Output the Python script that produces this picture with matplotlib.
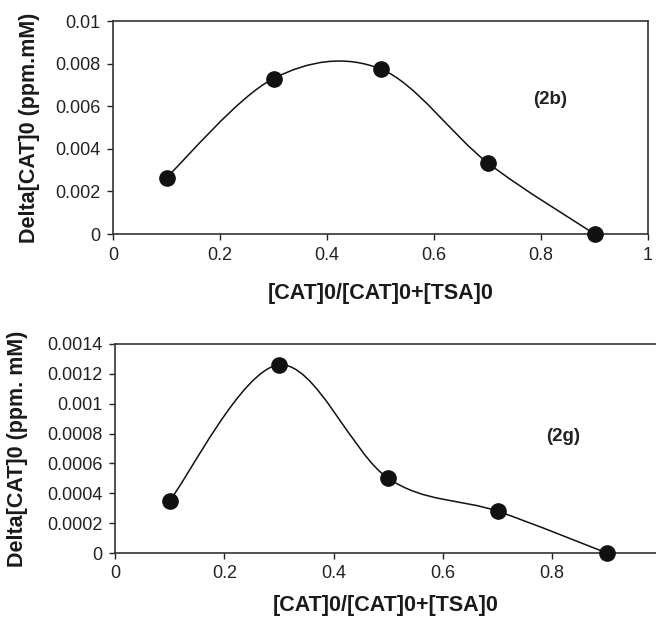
import numpy as np
import matplotlib
matplotlib.use("Agg")
import matplotlib.pyplot as plt
from matplotlib.path import Path
from matplotlib.patches import PathPatch
from matplotlib.ticker import FuncFormatter

plt.rcParams['font.family'] = ['Liberation Sans', 'DejaVu Sans']

# datos
fraccion = [0.1, 0.3, 0.5, 0.7, 0.9]
delta_2b = [0.00265, 0.0073, 0.00775, 0.00335, 0.0]
delta_2g = [0.00035, 0.00126, 0.0005, 0.00028, 0.0]

xticks_2b = [0, 0.2, 0.4, 0.6, 0.8, 1.0]
yticks_2b = [0, 0.002, 0.004, 0.006, 0.008, 0.01]
xticks_2g = [0, 0.2, 0.4, 0.6, 0.8]
yticks_2g = [0, 0.0002, 0.0004, 0.0006, 0.0008, 0.001, 0.0012, 0.0014]

etiqueta_x = '[CAT]0/[CAT]0+[TSA]0'


def curva_suave(x, y):
    # linea suavizada tipo Excel (Bezier con tension 1/6)
    p = np.column_stack([x, y]).astype(float)
    p = np.vstack([p[0], p, p[-1]])
    verts = [tuple(p[1])]
    codes = [Path.MOVETO]
    for i in range(1, len(p) - 2):
        c1 = p[i] + (p[i + 1] - p[i - 1]) / 6.0
        c2 = p[i + 1] - (p[i + 2] - p[i]) / 6.0
        verts += [tuple(c1), tuple(c2), tuple(p[i + 1])]
        codes += [Path.CURVE4] * 3
    return Path(verts, codes)


def dibujar(ax, y, xticks, yticks, xlim, ylim, ylabel, texto, pos_texto, pad_x):
    ax.add_patch(PathPatch(curva_suave(fraccion, y), fill=False,
                           edgecolor='#111111', linewidth=1.1, zorder=2))
    ax.plot(fraccion, y, 'o', color='#111111', markersize=11, zorder=3,
            clip_on=False)
    ax.set_xlim(*xlim)
    ax.set_ylim(*ylim)
    ax.set_xticks(xticks)
    ax.set_yticks(yticks)
    ax.xaxis.set_major_formatter(FuncFormatter(lambda v, _: '%g' % v))
    ax.yaxis.set_major_formatter(FuncFormatter(lambda v, _: '%g' % round(v, 6)))
    ax.tick_params(direction='out', length=4, width=1, colors='#222222',
                   labelsize=13, pad=5)
    for s in ax.spines.values():
        s.set_color('#333333')
        s.set_linewidth(1.2)
    ax.set_xlabel(etiqueta_x, fontsize=15.5, fontweight='bold', labelpad=pad_x,
                  color='#1a1a1a')
    ax.set_ylabel(ylabel, fontsize=15.5, fontweight='bold', color='#1a1a1a')
    ax.text(pos_texto[0], pos_texto[1], texto, fontsize=13.5, fontweight='bold',
            color='#222222', ha='center', va='center')


fig = plt.figure(figsize=(6.56, 6.19), dpi=100)

ax1 = fig.add_axes([113 / 656, 1 - 234 / 619, 535 / 656, 213 / 619])
dibujar(ax1, delta_2b, xticks_2b, yticks_2b, (0, 1), (0, 0.01),
        'Delta[CAT]0 (ppm.mM)', '(2b)', (0.817, 0.0063), 14)

ax2 = fig.add_axes([115 / 656, 1 - 553 / 619, 541 / 656, 209 / 619])
dibujar(ax2, delta_2g, xticks_2g, yticks_2g, (0, 0.99), (0, 0.0014),
        'Delta[CAT]0 (ppm. mM)', '(2g)', (0.82, 0.00078), 9)
ax2.spines['right'].set_visible(False)

ax1.yaxis.set_label_coords(-0.137, 0.5)
ax2.yaxis.set_label_coords(-0.16, 0.5)

fig.savefig('out.png', dpi=100)
